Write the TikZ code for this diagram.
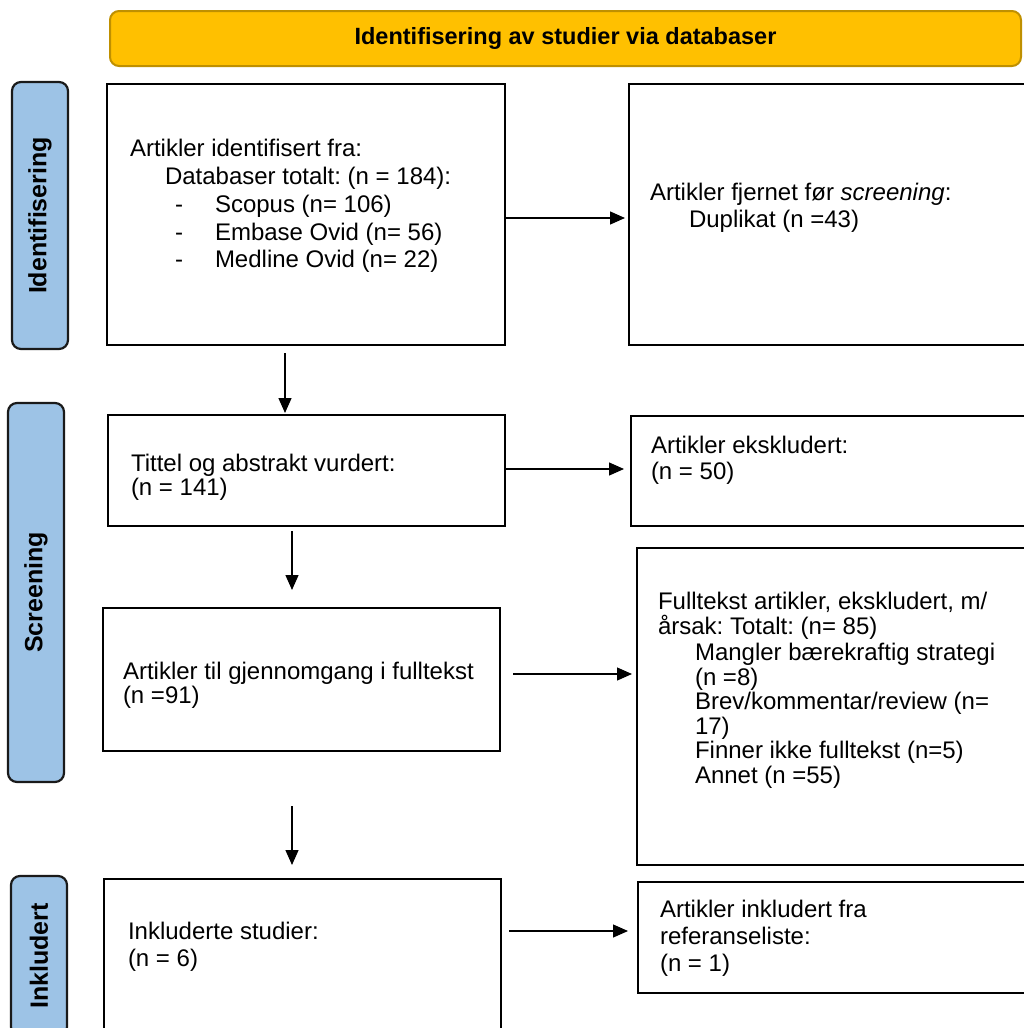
\documentclass[tikz,border=0pt]{standalone}
\usepackage{fontspec}
\setmainfont{Liberation Sans}
\usetikzlibrary{arrows.meta}
\definecolor{gold}{HTML}{FFC000}
\definecolor{golddark}{HTML}{BF9000}
\definecolor{lblue}{HTML}{9DC3E6}
\definecolor{lborder}{HTML}{1A1A1A}
\frenchspacing
\begin{document}
\begin{tikzpicture}[x=1pt,y=-1pt,
  every node/.style={inner sep=0pt, outer sep=0pt},
  txt/.style={font=\fontsize{24}{27}\selectfont\frenchspacing, anchor=base west},
  box/.style={draw=black, line width=2pt, fill=white},
  banner/.style={draw=golddark, line width=2pt, fill=gold, rounded corners=9pt,
     font=\fontsize{23.5}{27}\selectfont\bfseries},
  side/.style={draw=lborder, line width=2.2pt, fill=lblue, rounded corners=9pt,
     font=\fontsize{25}{28}\selectfont\bfseries, rotate=90},
  arr/.style={line width=1.3pt, -{Triangle[length=15pt,width=13pt]}}]
\useasboundingbox (0,0) rectangle (1023,1028);

% banner
\node[banner, minimum width=911, minimum height=55] (ban) at (565.5,38.5) {Identifisering av studier via databaser};

% side labels
\node[side, minimum width=267, minimum height=56] (l1) at (40,215.5) {Identifisering};
\node[side, minimum width=379, minimum height=56] (l2) at (36,592.5) {Screening};
\node[side, minimum width=160, minimum height=56] (l3) at (39,956) {Inkludert};

% boxes
\node[box, minimum width=398, minimum height=261] (b1) at (306,214.5) {};
\node[box, minimum width=400, minimum height=261] (b2) at (829,214.5) {};
\node[box, minimum width=397, minimum height=111] (b3) at (306.5,470.5) {};
\node[box, minimum width=398, minimum height=110] (b4) at (830,471) {};
\node[box, minimum width=397, minimum height=143] (b5) at (301.5,679.5) {};
\node[box, minimum width=392, minimum height=317] (b6) at (833,706.5) {};
\node[box, minimum width=397, minimum height=160] (b7) at (302.5,959) {};
\node[box, minimum width=391, minimum height=111] (b8) at (833.5,937.5) {};

% texts box 1
\node[txt] (t1a) at (130,156) {Artikler identifisert fra:};
\node[txt] (t1b) at (165,184) {Databaser totalt: (n = 184):};
\node[txt] (t1c) at (175,212) {-};
\node[txt] (t1d) at (215,212) {Scopus (n= 106)};
\node[txt] (t1e) at (175,240) {-};
\node[txt] (t1f) at (215,240) {Embase Ovid (n= 56)};
\node[txt] (t1g) at (175,267) {-};
\node[txt] (t1h) at (215,267) {Medline Ovid (n= 22)};

% box 2
\node[txt] (t2a) at (650,200) {Artikler fjernet før \textit{screening}:};
\node[txt] (t2b) at (689,227) {Duplikat (n =43)};

% box 3
\node[txt] (t3a) at (131,471) {Tittel og abstrakt vurdert:};
\node[txt] (t3b) at (131,495) {(n = 141)};

% box 4
\node[txt] (t4a) at (651,453) {Artikler ekskludert:};
\node[txt] (t4b) at (651,479) {(n = 50)};

% box 5
\node[txt] (t5a) at (123,679) {Artikler til gjennomgang i fulltekst};
\node[txt] (t5b) at (123,703) {(n =91)};

% box 6
\node[txt] (t6a) at (658,609) {Fulltekst artikler, ekskludert, m/};
\node[txt] (t6b) at (658,634) {årsak: Totalt: (n= 85)};
\node[txt] (t6c) at (695,660) {Mangler bærekraftig strategi};
\node[txt] (t6d) at (695,685) {(n =8)};
\node[txt] (t6e) at (695,709) {Brev/kommentar/review (n=};
\node[txt] (t6f) at (695,734) {17)};
\node[txt] (t6g) at (695,758) {Finner ikke fulltekst (n=5)};
\node[txt] (t6h) at (695,783) {Annet (n =55)};

% box 7
\node[txt] (t7a) at (128,939) {Inkluderte studier:};
\node[txt] (t7b) at (128,966) {(n = 6)};

% box 8
\node[txt] (t8a) at (660,917) {Artikler inkludert fra};
\node[txt] (t8b) at (660,944) {referanseliste:};
\node[txt] (t8c) at (660,971) {(n = 1)};

% arrow end points
\coordinate (a1s) at (285,353);  \coordinate (a1e) at (285,413);
\coordinate (a2s) at (b1.east |- 0,218); \coordinate (a2e) at (625,218);
\coordinate (a3s) at (b3.east |- 0,469); \coordinate (a3e) at (624,469);
\coordinate (a4s) at (292,531);  \coordinate (a4e) at (292,590);
\coordinate (a5s) at (513,674);  \coordinate (a5e) at (632,674);
\coordinate (a6s) at (292,806);  \coordinate (a6e) at (292,865);
\coordinate (a7s) at (509,931);  \coordinate (a7e) at (628,931);

\draw[arr] (a1s) -- (a1e);
\draw[arr] (a2s) -- (a2e);
\draw[arr] (a3s) -- (a3e);
\draw[arr] (a4s) -- (a4e);
\draw[arr] (a5s) -- (a5e);
\draw[arr] (a6s) -- (a6e);
\draw[arr] (a7s) -- (a7e);
\end{tikzpicture}
\end{document}
